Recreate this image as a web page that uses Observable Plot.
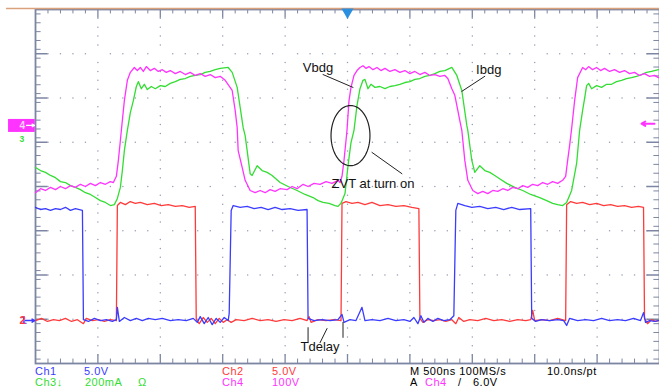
<!DOCTYPE html>
<html><head><meta charset="utf-8">
<script src="https://cdn.jsdelivr.net/npm/d3@7"></script>
<script src="https://cdn.jsdelivr.net/npm/@observablehq/plot@0.6"></script>
<style>
body{margin:0;background:#fff;width:659px;height:390px;overflow:hidden}
#chart svg{display:block}
#readout{position:relative;width:659px;height:24px;font-family:"Liberation Sans",Arial,"DejaVu Sans",sans-serif;font-size:11px;letter-spacing:0.5px}
#readout span{position:absolute;line-height:1;white-space:pre}
</style></head><body>
<div id="chart"></div>
<div id="readout"></div>
<script>
// Time in ns (500 ns/div, 10 div), level in screen divisions from centre (-4..4)
const ch4Vbdg = [[0,-0.14],[40,-0.05],[80,-0.09],[120,-0.02],[160,-0.07],[200,0],[240,-0.05],[280,0.02],[320,-0.02],[360,0.05],[400,0],[440,0.07],[480,0.02],[520,0.09],[560,0.05],[600,0.11],[624,0.09],[648,0.23],[664,0.59],[680,1.04],[688,1.27],[712,1.94],[736,2.40],[760,2.58],[792,2.69],[816,2.62],[840,2.69],[864,2.60],[888,2.71],[920,2.62],[952,2.67],[984,2.60],[1016,2.64],[1048,2.58],[1080,2.62],[1120,2.55],[1160,2.60],[1200,2.53],[1240,2.58],[1280,2.51],[1320,2.55],[1360,2.49],[1400,2.53],[1440,2.46],[1480,2.49],[1520,2.40],[1576,2.17],[1600,1.72],[1616,1.33],[1624,0.81],[1656,0.43],[1680,0.14],[1720,-0.09],[1760,-0.14],[1800,-0.09],[1840,-0.14],[1880,-0.07],[1920,-0.11],[1960,-0.05],[2016,-0.07],[2056,0],[2096,-0.05],[2144,0.05],[2184,0],[2232,0.07],[2280,0.05],[2328,0.11],[2376,0.07],[2424,0.14],[2440,0.09],[2456,0.23],[2472,0.59],[2488,1.04],[2496,1.27],[2512,1.94],[2528,2.24],[2552,2.51],[2576,2.62],[2600,2.69],[2624,2.73],[2648,2.67],[2672,2.71],[2704,2.64],[2736,2.69],[2768,2.62],[2800,2.67],[2840,2.60],[2880,2.64],[2920,2.58],[2960,2.62],[3000,2.55],[3040,2.60],[3080,2.53],[3120,2.58],[3160,2.51],[3200,2.53],[3240,2.49],[3280,2.51],[3304,2.44],[3336,2.21],[3360,2.06],[3384,1.72],[3400,1.49],[3416,1.27],[3440,0.59],[3464,0.14],[3504,-0.09],[3544,-0.16],[3584,-0.11],[3624,-0.16],[3664,-0.09],[3704,-0.11],[3744,-0.05],[3784,-0.09],[3824,-0.02],[3864,-0.05],[3904,0.02],[3944,-0.02],[3984,0.05],[4024,0.02],[4064,0.09],[4104,0.05],[4144,0.11],[4184,0.07],[4224,0.14],[4248,0.23],[4264,0.59],[4280,0.93],[4296,1.31],[4320,1.94],[4344,2.46],[4384,2.69],[4408,2.64],[4432,2.71],[4464,2.64],[4496,2.69],[4528,2.62],[4560,2.67],[4600,2.60],[4640,2.64],[4680,2.58],[4720,2.62],[4760,2.55],[4800,2.58],[4840,2.51],[4880,2.55],[4920,2.49],[4960,2.51],[4992,2.46]];

const ch3Ibdg = [[0,0.43],[40,0.36],[80,0.32],[120,0.25],[160,0.20],[200,0.11],[240,0.09],[280,0.02],[320,-0.02],[360,-0.07],[400,-0.14],[440,-0.18],[480,-0.25],[520,-0.32],[560,-0.36],[600,-0.43],[632,-0.41],[656,-0.27],[680,-0.02],[696,0.36],[712,0.81],[736,1.27],[760,1.67],[784,1.94],[808,2.26],[824,2.37],[848,2.21],[872,2.31],[896,2.19],[928,2.26],[960,2.21],[1000,2.28],[1040,2.26],[1080,2.33],[1120,2.37],[1160,2.42],[1200,2.44],[1240,2.49],[1280,2.51],[1320,2.53],[1360,2.58],[1400,2.60],[1440,2.64],[1480,2.67],[1544,2.69],[1576,2.58],[1616,2.24],[1640,1.79],[1664,1.33],[1680,1.15],[1696,0.81],[1720,0.29],[1736,0.25],[1776,0.47],[1816,0.36],[1856,0.32],[1896,0.25],[1960,0.09],[2024,0],[2096,-0.09],[2160,-0.18],[2224,-0.25],[2264,-0.32],[2304,-0.36],[2352,-0.38],[2400,-0.43],[2424,-0.45],[2448,-0.38],[2480,-0.16],[2504,0.47],[2528,0.99],[2552,1.27],[2576,1.83],[2600,2.21],[2624,2.40],[2640,2.42],[2664,2.21],[2688,2.31],[2720,2.24],[2760,2.26],[2800,2.21],[2840,2.26],[2880,2.28],[2920,2.31],[2960,2.35],[3000,2.37],[3040,2.42],[3080,2.44],[3120,2.49],[3160,2.51],[3200,2.55],[3240,2.60],[3280,2.62],[3336,2.69],[3376,2.51],[3416,2.17],[3456,1.38],[3464,1.27],[3496,0.59],[3520,0.32],[3560,0.47],[3600,0.36],[3640,0.32],[3680,0.25],[3728,0.16],[3776,0.07],[3840,-0.02],[3904,-0.09],[3968,-0.18],[4040,-0.25],[4096,-0.32],[4144,-0.38],[4184,-0.41],[4224,-0.43],[4256,-0.36],[4296,-0.09],[4336,0.52],[4360,1.27],[4384,1.72],[4400,1.99],[4416,2.28],[4432,2.33],[4456,2.21],[4496,2.28],[4536,2.24],[4576,2.31],[4616,2.31],[4656,2.37],[4696,2.40],[4736,2.44],[4776,2.46],[4816,2.49],[4856,2.53],[4896,2.58],[4936,2.60],[4992,2.64]];

const ch1Gate = [[0,-0.47],[40,-0.52],[80,-0.50],[120,-0.54],[160,-0.50],[200,-0.52],[240,-0.47],[280,-0.54],[320,-0.50],[376,-0.54],[384,-3.01],[424,-3.05],[472,-2.98],[520,-3.03],[568,-3.01],[616,-3.05],[648,-3.01],[656,-2.73],[672,-3.05],[712,-2.96],[760,-3.03],[808,-2.98],[856,-3.03],[904,-2.98],[960,-3.01],[1016,-2.98],[1080,-3.03],[1144,-3.01],[1208,-3.03],[1264,-2.98],[1296,-3.07],[1320,-2.94],[1352,-3.10],[1384,-2.96],[1416,-3.12],[1448,-2.98],[1480,-3.07],[1512,-2.96],[1544,-3.03],[1552,-2.87],[1568,-0.54],[1584,-0.43],[1640,-0.47],[1696,-0.45],[1752,-0.50],[1808,-0.47],[1864,-0.52],[1920,-0.47],[1976,-0.52],[2040,-0.50],[2104,-0.54],[2176,-0.52],[2184,-2.98],[2232,-3.03],[2296,-3.01],[2360,-3.03],[2424,-3.01],[2456,-2.89],[2472,-3.07],[2520,-3.01],[2568,-3.03],[2616,-2.73],[2640,-3.03],[2696,-3.01],[2760,-3.03],[2824,-2.98],[2888,-3.03],[2952,-3.01],[3000,-3.05],[3032,-2.96],[3064,-3.10],[3088,-2.92],[3112,-3.07],[3144,-2.98],[3184,-3.05],[3224,-2.98],[3272,-3.03],[3320,-3.01],[3352,-2.92],[3368,-0.54],[3384,-0.38],[3440,-0.43],[3496,-0.47],[3560,-0.45],[3624,-0.50],[3688,-0.47],[3752,-0.52],[3816,-0.47],[3880,-0.52],[3968,-0.50],[3976,-2.98],[4008,-3.05],[4056,-3.01],[4120,-3.03],[4184,-3.01],[4232,-3.03],[4256,-3.14],[4280,-2.98],[4344,-3.03],[4408,-3.01],[4472,-3.03],[4536,-2.98],[4600,-3.03],[4664,-3.01],[4728,-3.03],[4792,-2.98],[4848,-3.03],[4872,-2.85],[4888,-3.07],[4920,-3.03],[4960,-3.05],[4992,-3.03]];

const ch2Gate = [[0,-3.03],[48,-2.98],[96,-3.05],[144,-3.01],[192,-3.03],[240,-2.98],[288,-3.05],[336,-3.01],[384,-3.10],[408,-2.98],[456,-3.03],[504,-3.01],[552,-3.05],[600,-3.01],[648,-3.03],[656,-0.43],[680,-0.36],[720,-0.41],[760,-0.34],[800,-0.38],[840,-0.36],[896,-0.41],[952,-0.38],[1008,-0.43],[1064,-0.41],[1120,-0.45],[1176,-0.43],[1232,-0.47],[1280,-0.45],[1288,-3.01],[1312,-3.10],[1344,-2.96],[1376,-3.07],[1408,-2.98],[1440,-3.10],[1472,-2.98],[1504,-3.07],[1536,-3.01],[1568,-3.07],[1608,-3.01],[1672,-3.03],[1736,-2.98],[1800,-3.03],[1864,-3.01],[1928,-3.05],[1992,-3.01],[2056,-3.03],[2120,-2.98],[2176,-3.03],[2192,-2.94],[2208,-3.07],[2264,-3.01],[2328,-3.03],[2392,-3.01],[2448,-3.03],[2456,-0.38],[2488,-0.34],[2536,-0.38],[2584,-0.36],[2640,-0.41],[2696,-0.36],[2760,-0.43],[2824,-0.41],[2888,-0.45],[2952,-0.43],[3016,-0.47],[3072,-0.50],[3080,-2.98],[3104,-3.07],[3144,-3.01],[3192,-3.03],[3240,-3.01],[3288,-3.05],[3336,-3.01],[3368,-3.10],[3392,-2.96],[3432,-3.05],[3480,-3.01],[3544,-3.03],[3608,-2.98],[3672,-3.03],[3736,-3.01],[3800,-3.05],[3864,-3.01],[3928,-3.03],[3968,-3.01],[3984,-2.80],[4000,-3.03],[4056,-3.01],[4120,-3.03],[4184,-2.98],[4248,-3.03],[4256,-0.41],[4288,-0.34],[4336,-0.38],[4384,-0.36],[4440,-0.41],[4496,-0.38],[4552,-0.43],[4608,-0.41],[4664,-0.45],[4720,-0.43],[4776,-0.47],[4832,-0.45],[4872,-0.47],[4880,-2.98],[4904,-3.10],[4936,-3.01],[4968,-3.05],[4992,-3.03]];

// Channel reference levels (div) and trigger
const ch4Ref = 1.38, ch3Ref = 1.1, ch12Ref = -3.03, trigLevel = 1.42, trigTime = 2500;

// Annotations
const annoText = ["Vbdg", "Ibdg", "ZVT at turn on", "Tdelay"];
const annoT = [2264, 3632, 2704, 2280];
const annoV = [2.69, 2.64, 0.07, -3.62];
const annoAnchor = ["middle", "middle", "start", "middle"];
const leaders = [
  [[2304,2.53],[2544,2.24]],
  [[3600,2.49],[3416,2.15]],
  [[2696,0.77],[2936,0.29]],
  [[2184,-3.19],[2184,-3.53]],
  [[2280,-3.53],[2336,-3.21]],
  [[2464,-3.07],[2464,-3.41]]
];
const zvtEllipse = {t: 2524, v: 1.15, rt: 156, rv: 0.68};

// Readout texts
const readRow1 = ["Ch1", "5.0V", "Ch2", "5.0V", "M 500ns 100MS/s", "10.0ns/pt"];
const readRow2 = ["Ch3\u2193", "200mA", "\u03A9", "Ch4", "100V", "A", "Ch4", "/", "6.0V"];

const C = {ch1: "#3a3cff", ch2: "#ff3a3a", ch3: "#33dd33", ch4: "#ff33ff", frame: "#7c86a2", dot: "#979db3", orange: "#d9a27c"};

const xMinor = d3.range(100, 5000, 100).filter(t => t % 500 !== 0);
const xMajor = d3.range(500, 5000, 500);
const yMinor = d3.range(-39, 40, 2).map(d => d / 10).filter(v => Math.abs(v - Math.round(v)) > 1e-6);
const yMajor = d3.range(-3, 4, 1);
const gridDots = [];
for (const gx of xMajor) for (const v of d3.range(-38, 39, 2).map(d => d / 10)) if (Math.abs(v - Math.round(v)) > 1e-6) gridDots.push([gx, v]);
for (const gy of yMajor) for (const t of d3.range(100, 5000, 100)) if (t % 500 !== 0) gridDots.push([t, gy]);

const ellipsePts = d3.range(0, 73).map(i => {
  const a = i / 72 * 2 * Math.PI;
  return [zvtEllipse.t + zvtEllipse.rt * Math.cos(a), zvtEllipse.v + zvtEllipse.rv * Math.sin(a)];
});

const annos = annoText.map((s, i) => ({s, t: annoT[i], v: annoV[i], a: annoAnchor[i]}));
const F = "'Liberation Sans', Arial, sans-serif";
const line = (data, stroke) => Plot.line(data, {x: d => d[0], y: d => d[1], stroke, strokeWidth: 1.3});

const chart = Plot.plot({
  width: 659, height: 366,
  marginLeft: 35, marginRight: 0, marginTop: 9, marginBottom: 3,
  x: {domain: [0, 5000], axis: null},
  y: {domain: [-4, 4], axis: null},
  style: {background: "#fff"},
  marks: [
    Plot.dot(gridDots, {x: d => d[0], y: d => d[1], r: 0.75, fill: C.dot, stroke: null}),
    Plot.ruleX(xMinor, {x: d => d, y1: 4, y2: 3.9, stroke: C.frame}),
    Plot.ruleX(xMajor, {x: d => d, y1: 4, y2: 3.8, stroke: C.frame, strokeWidth: 1.3}),
    Plot.ruleX(xMinor, {x: d => d, y1: -4, y2: -3.9, stroke: C.frame}),
    Plot.ruleX(xMajor, {x: d => d, y1: -4, y2: -3.8, stroke: C.frame, strokeWidth: 1.3}),
    Plot.ruleY(yMinor, {y: d => d, x1: 0, x2: 45, stroke: C.frame}),
    Plot.ruleY(yMajor, {y: d => d, x1: 0, x2: 100, stroke: C.frame, strokeWidth: 1.5}),
    Plot.ruleY(yMinor, {y: d => d, x1: 4955, x2: 5000, stroke: C.frame}),
    Plot.ruleY(yMajor, {y: d => d, x1: 4900, x2: 5000, stroke: C.frame, strokeWidth: 1.5}),
    Plot.frame({stroke: C.frame, strokeWidth: 1.8}),
    Plot.ruleY([4], {x1: -232, x2: 5000, dy: -1, stroke: C.orange, strokeWidth: 1.6}),
    line(ch2Gate, C.ch2),
    line(ch1Gate, C.ch1),
    line(ch3Ibdg, C.ch3),
    line(ch4Vbdg, C.ch4),
    Plot.line(ellipsePts, {x: d => d[0], y: d => d[1], stroke: "#222", strokeWidth: 1.2}),
    ...leaders.map(l => Plot.line(l, {x: d => d[0], y: d => d[1], stroke: "#222", strokeWidth: 1})),
    Plot.text(annos, {x: "t", y: "v", text: "s", textAnchor: d => d.a, fontSize: 13, fontFamily: F, fill: "#111"}),
    // trigger time marker
    Plot.dot([trigTime], {x: d => d, y: 4, dy: 2.5, symbol: "triangle", rotate: 180, r: 4.5, fill: "#2b8fe0", stroke: null}),
    // trigger level marker (right)
    Plot.arrow([trigLevel], {x1: 4960, x2: 4856, y1: d => d, y2: d => d, stroke: C.ch4, strokeWidth: 2, headLength: 7}),
    // channel markers (left)
    Plot.text([ch3Ref], {y: d => d, frameAnchor: "left", dx: -16, dy: 1, text: () => "3", fill: C.ch3, fontSize: 8.5, fontWeight: "bold", fontFamily: F}),
    Plot.ruleY([ch4Ref], {x1: -216, x2: -2, stroke: C.ch4, strokeWidth: 13}),
    Plot.text([ch4Ref], {y: d => d, frameAnchor: "left", dx: -16, text: () => "4", fill: "#ffd6ff", fontSize: 10, fontWeight: "bold", fontFamily: F}),
    Plot.arrow([ch4Ref], {x1: -72, x2: -8, y1: d => d, y2: d => d, stroke: "#fff", strokeWidth: 1.3, headLength: 4}),
    Plot.text([ch12Ref], {y: d => d, frameAnchor: "left", dx: -15, text: () => "1", fill: C.ch1, fontSize: 11, fontWeight: "bold", fontFamily: F}),
    Plot.text([ch12Ref], {y: d => d, frameAnchor: "left", dx: -16, text: () => "2", fill: C.ch2, fontSize: 11, fontWeight: "bold", fontFamily: F}),
    Plot.arrow([ch12Ref], {x1: -80, x2: -6, y1: d => d, y2: d => d, stroke: C.ch1, strokeWidth: 1.5, headLength: 4})
  ]
});
document.getElementById("chart").appendChild(chart);

// Readout below the graticule
const ro = document.getElementById("readout");
const place = (text, left, top, color) => {
  const s = document.createElement("span");
  s.textContent = text; s.style.left = left + "px"; s.style.top = top + "px"; s.style.color = color;
  ro.appendChild(s);
};
const row1Layout = [[35, C.ch1], [84, C.ch1], [222, C.ch2], [272, C.ch2], [410, "#000"], [547, "#000"]];
const row2Layout = [[35, C.ch3], [85, C.ch3], [138, C.ch3], [222, C.ch4], [272, C.ch4], [410, "#000"], [425, C.ch4], [458, "#000"], [473, "#000"]];
readRow1.forEach((t, i) => place(t, row1Layout[i][0], 0, row1Layout[i][1]));
readRow2.forEach((t, i) => place(t, row2Layout[i][0], 11, row2Layout[i][1]));
</script>
</body></html>
